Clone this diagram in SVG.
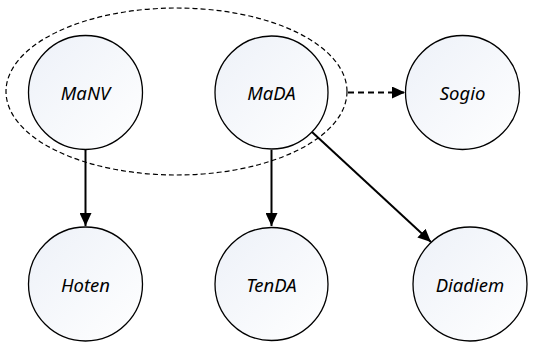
<svg xmlns="http://www.w3.org/2000/svg" width="544" height="343" viewBox="0 0 544 343">
<defs>
<linearGradient id="g" x1="0" y1="0" x2="1" y2="1">
<stop offset="0" stop-color="#edf1f8"/>
<stop offset="1" stop-color="#ffffff"/>
</linearGradient>
<marker id="ah" markerWidth="13" markerHeight="12" refX="13" refY="6" orient="auto" markerUnits="userSpaceOnUse">
<path d="M0,0 L13,6 L0,12 Z" fill="#000"/>
</marker>
</defs>
<style>
.n{fill:url(#g);stroke:#000;stroke-width:1.3}
.t{font-family:"Noto Sans","Open Sans",sans-serif;font-style:italic;font-weight:400;font-size:18.5px;fill:#000;text-anchor:middle;dominant-baseline:central}
.c{stroke:#000;stroke-width:2;fill:none}
.d{stroke:#000;stroke-width:2;fill:none;stroke-dasharray:6,4}
</style>
<ellipse cx="176.5" cy="91.5" rx="170.5" ry="83.5" fill="none" stroke="#000" stroke-width="1.2" stroke-dasharray="5,3"/>
<g id="connectors">
<line class="c" x1="85.5" y1="150" x2="85.5" y2="226" marker-end="url(#ah)"/>
<line class="c" x1="271.5" y1="150" x2="271.5" y2="226" marker-end="url(#ah)"/>
<line class="c" x1="312" y1="132" x2="431" y2="242" marker-end="url(#ah)"/>
<line class="d" x1="348" y1="92.5" x2="405" y2="92.5" marker-end="url(#ah)"/>
</g>
<g id="MaNV"><circle class="n" cx="85.5" cy="92.5" r="57"/><text class="t" x="85.5" y="92.5">MaNV</text></g>
<g id="MaDA"><circle class="n" cx="271.5" cy="92.5" r="56.5"/><text class="t" x="271.5" y="92.5">MaDA</text></g>
<g id="Sogio"><circle class="n" cx="462.5" cy="92.5" r="57"/><text class="t" x="462.5" y="92.5">Sogio</text></g>
<g id="Hoten"><circle class="n" cx="85.5" cy="284" r="57"/><text class="t" x="85.5" y="284">Hoten</text></g>
<g id="TenDA"><circle class="n" cx="271.5" cy="284" r="56.5"/><text class="t" x="271.5" y="284">TenDA</text></g>
<g id="Diadiem"><circle class="n" cx="470" cy="284" r="57"/><text class="t" x="470" y="284">Diadiem</text></g>
</svg>
